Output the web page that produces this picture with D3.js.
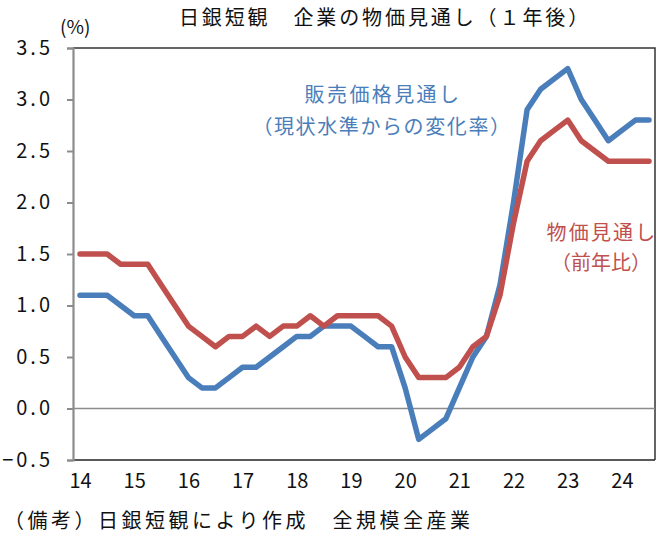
<!DOCTYPE html>
<html><head><meta charset="utf-8">
<script src="https://cdn.jsdelivr.net/npm/d3@7"></script>
<style>
html,body{margin:0;padding:0;background:#fff;}
svg{display:block;font-family:"Noto Sans CJK JP","Noto Sans",sans-serif;}
</style></head>
<body>
<script>
const quarters = [];
for (let y = 2014; y <= 2024; y++) for (let q = 0; q < 4; q++) if (!(y === 2024 && q === 3)) quarters.push(y + q / 4);

const salesPrice = [1.1,1.1,1.1,1.0, 0.9,0.9,0.7,0.5, 0.3,0.2,0.2,0.3, 0.4,0.4,0.5,0.6,
  0.7,0.7,0.8,0.8, 0.8,0.7,0.6,0.6, 0.2,-0.3,-0.2,-0.1, 0.2,0.5,0.7,1.2,
  2.0,2.9,3.1,3.2, 3.3,3.0,2.8,2.6, 2.7,2.8,2.8];
const generalPrice = [1.5,1.5,1.5,1.4, 1.4,1.4,1.2,1.0, 0.8,0.7,0.6,0.7, 0.7,0.8,0.7,0.8,
  0.8,0.9,0.8,0.9, 0.9,0.9,0.9,0.8, 0.5,0.3,0.3,0.3, 0.4,0.6,0.7,1.1,
  1.8,2.4,2.6,2.7, 2.8,2.6,2.5,2.4, 2.4,2.4,2.4];
const yearTicks = [2014,2015,2016,2017,2018,2019,2020,2021,2022,2023,2024];
const yTicks = [-0.5,0,0.5,1,1.5,2,2.5,3,3.5];
const title = "日銀短観　企業の物価見通し（１年後）";
const unitLabel = "(%)";
const blueLabel = ["販売価格見通し", "（現状水準からの変化率）"];
const redLabel = ["物価見通し", "（前年比）"];
const note = "（備考）日銀短観により作成　全規模全産業";

const W = 664, H = 535;
const plot = {left: 73, right: 655, top: 48, bottom: 460};
const svg = d3.select("body").append("svg").attr("width", W).attr("height", H);

const x = d3.scaleLinear().domain([2014, 2024.5]).range([80, 649]);
const y = d3.scaleLinear().domain([-0.5, 3.5]).range([plot.bottom, plot.top]);

// title
svg.append("text").attr("x", 385).attr("y", 25).attr("text-anchor", "middle")
  .attr("font-size", 20).attr("letter-spacing", "2.9px").attr("fill", "#111").text(title);
svg.append("text").attr("x", 60).attr("y", 34).attr("font-size", 19).attr("fill", "#111").text(unitLabel);

// frame top & right
svg.append("path").attr("d", `M${plot.left},${plot.top}H${plot.right}V${plot.bottom}`)
  .attr("fill", "none").attr("stroke", "#333").attr("stroke-width", 1.5);

// zero line
svg.append("line").attr("x1", plot.left).attr("x2", plot.right)
  .attr("y1", y(0)).attr("y2", y(0)).attr("stroke", "#8c8c8c").attr("stroke-width", 1.5);

// bottom axis
const xAxis = d3.axisBottom(x).tickValues(yearTicks).tickSize(0).tickPadding(14)
  .tickFormat(d => String(d % 100));
const gx = svg.append("g").attr("transform", `translate(0,${plot.bottom})`).call(xAxis);
gx.select(".domain").remove();
gx.selectAll("text").attr("font-size", 20).attr("fill", "#111")
  .attr("font-family", "'Noto Sans CJK JP',sans-serif").attr("dy", "0.7em");
svg.append("line").attr("x1", plot.left).attr("x2", plot.right)
  .attr("y1", plot.bottom).attr("y2", plot.bottom).attr("stroke", "#222").attr("stroke-width", 1.5);

// left axis
const yAxis = d3.axisLeft(y).tickValues(yTicks).tickSize(6).tickPadding(14)
  .tickFormat(d3.format(".1f"));
const gy = svg.append("g").attr("transform", `translate(${plot.left},0)`).call(yAxis);
gy.select(".domain").attr("stroke", "#8c8c8c").attr("stroke-width", 2.2);
gy.selectAll(".tick line").attr("stroke", "#8c8c8c").attr("stroke-width", 2);
gy.selectAll("text").attr("font-size", 20).attr("fill", "#111")
  .attr("font-family", "'Noto Sans CJK JP',sans-serif").attr("letter-spacing", "3px");

// lines
const line = d3.line().x((d, i) => x(quarters[i])).y(d => y(d));
svg.append("path").datum(salesPrice).attr("d", line).attr("fill", "none")
  .attr("stroke", "#4a7ebb").attr("stroke-width", 5.5)
  .attr("stroke-linejoin", "round").attr("stroke-linecap", "round");
svg.append("path").datum(generalPrice).attr("d", line).attr("fill", "none")
  .attr("stroke", "#c0504d").attr("stroke-width", 5.5)
  .attr("stroke-linejoin", "round").attr("stroke-linecap", "round");

// series labels
const bl = svg.append("g").attr("fill", "#4a7ebb").attr("text-anchor", "middle").attr("font-size", 20);
bl.append("text").attr("x", 383).attr("y", 102).attr("letter-spacing", "2.4px").text(blueLabel[0]);
bl.append("text").attr("x", 382).attr("y", 134).attr("letter-spacing", "1.6px").text(blueLabel[1]);
const rl = svg.append("g").attr("fill", "#c0504d").attr("text-anchor", "middle").attr("font-size", 20);
rl.append("text").attr("x", 602).attr("y", 240).attr("letter-spacing", "2.2px").text(redLabel[0]);
rl.append("text").attr("x", 601).attr("y", 270).text(redLabel[1]);

// note
svg.append("text").attr("x", 4).attr("y", 528).attr("font-size", 20).attr("fill", "#111")
  .attr("letter-spacing", "3.5px").text(note);
</script>
</body></html>
